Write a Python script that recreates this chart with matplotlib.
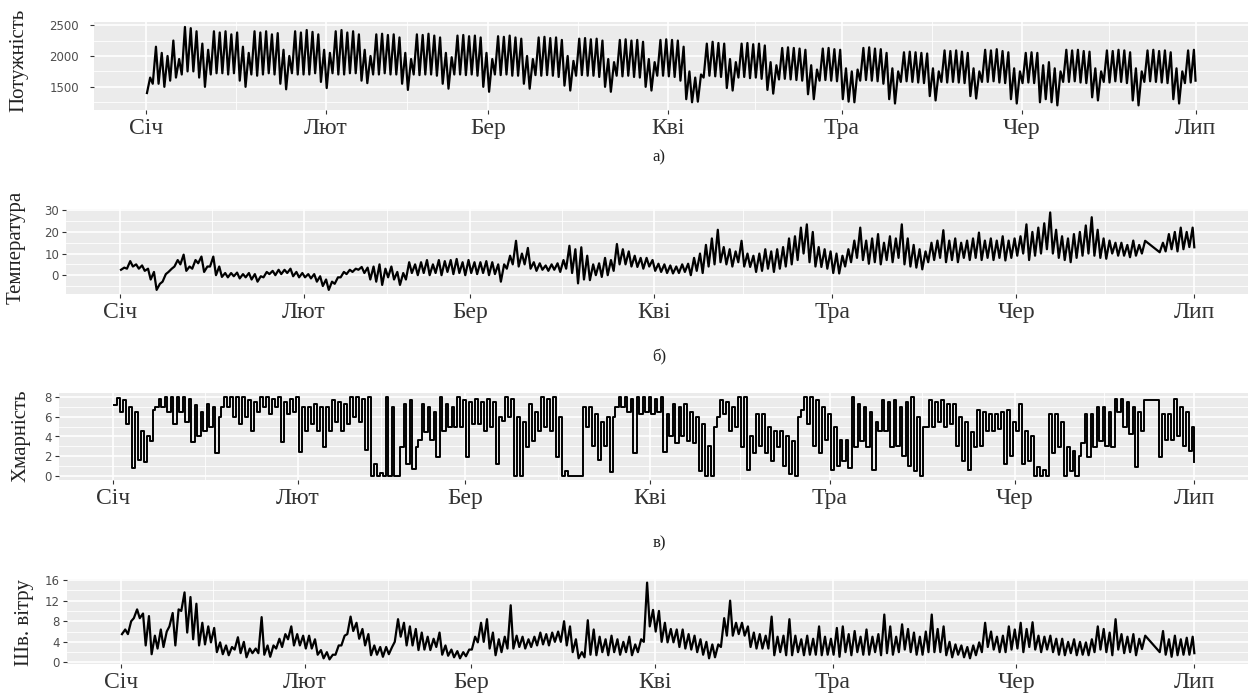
import numpy as np
import matplotlib
matplotlib.use("Agg")
import matplotlib.pyplot as plt

# month ticks, day-of-year (non-leap year)
months = ['Січ', 'Лют', 'Бер', 'Кві', 'Тра', 'Чер', 'Лип']
month_start = [0, 31, 59, 90, 120, 151, 181]

# daily max / min, day 0 = 1 Jan ... day 180 = 30 Jun
power_hi = [1650, 2150, 2050, 2000, 2250, 1950, 2470, 2450, 2400, 2200,
            2100, 2400, 2380, 2400, 2350, 2380, 2150, 2050, 2400, 2380,
            2400, 2350, 2370, 2100, 2000, 2400, 2380, 2420, 2390, 2350,
            2100, 2050, 2400, 2420, 2380, 2400, 2350, 2100, 2000, 2350,
            2360, 2340, 2350, 2300, 2050, 1950, 2350, 2340, 2360, 2330,
            2300, 2050, 1980, 2330, 2340, 2320, 2330, 2300, 2050, 1950,
            2320, 2310, 2330, 2300, 2280, 2000, 1950, 2300, 2310, 2290,
            2300, 2260, 2000, 1920, 2280, 2290, 2270, 2280, 2250, 1950,
            1900, 2260, 2270, 2250, 2260, 2230, 1950, 1900, 2260, 2270,
            2260, 2250, 2150, 1750, 1650, 1700, 2200, 2230, 2210, 2200,
            1950, 1900, 2200, 2210, 2190, 2200, 2170, 1900, 1850, 2130,
            2140, 2130, 2120, 2100, 1850, 1780, 2120, 2130, 2110, 2100,
            1800, 1750, 1780, 2130, 2140, 2120, 2110, 2050, 1800, 1750,
            2060, 2070, 2060, 2050, 2040, 1800, 1750, 2090, 2080, 2090,
            2070, 2050, 1800, 1750, 2100, 2090, 2110, 2080, 2060, 1800,
            1750, 2050, 2060, 2050, 1850, 1900, 1800, 1750, 2100, 2090,
            2100, 2080, 2070, 1800, 1750, 2090, 2080, 2100, 2090, 2060,
            1800, 1750, 2090, 2100, 2080, 2090, 2060, 1800, 1750, 2090, 2100]
power_lo = [1400, 1550, 1550, 1500, 1600, 1650, 1700, 1750, 1750, 1650,
            1500, 1700, 1720, 1720, 1700, 1720, 1600, 1500, 1700, 1680,
            1700, 1720, 1700, 1550, 1460, 1720, 1700, 1700, 1700, 1720,
            1580, 1480, 1720, 1700, 1700, 1720, 1720, 1600, 1560, 1700,
            1700, 1720, 1700, 1700, 1550, 1450, 1700, 1690, 1700, 1700,
            1680, 1550, 1470, 1700, 1700, 1690, 1700, 1680, 1500, 1420,
            1700, 1690, 1700, 1680, 1680, 1550, 1470, 1690, 1680, 1690,
            1680, 1660, 1520, 1440, 1680, 1690, 1680, 1680, 1660, 1500,
            1420, 1680, 1670, 1680, 1660, 1650, 1500, 1440, 1680, 1680,
            1670, 1660, 1600, 1300, 1250, 1260, 1650, 1680, 1670, 1660,
            1480, 1440, 1650, 1660, 1640, 1650, 1630, 1450, 1390, 1620,
            1630, 1620, 1610, 1600, 1380, 1300, 1600, 1610, 1600, 1590,
            1300, 1260, 1250, 1600, 1610, 1600, 1590, 1550, 1300, 1230,
            1580, 1590, 1580, 1570, 1560, 1350, 1280, 1580, 1570, 1580,
            1570, 1560, 1350, 1310, 1580, 1580, 1590, 1570, 1560, 1300,
            1230, 1560, 1570, 1560, 1250, 1300, 1250, 1200, 1580, 1580,
            1590, 1570, 1560, 1330, 1280, 1580, 1570, 1590, 1580, 1560,
            1280, 1200, 1580, 1590, 1580, 1570, 1560, 1300, 1230, 1560, 1570]
power_end = 1600

temp_lo = [2.5, 3, 4, 3, 2, -2, -6.8, -3, 1.5, 4,
           5, 2, 3, 5.5, 1.5, 4, 0, -0.8, -1, -0.5,
           -1.5, -1, -2, -3, -1, 0.5, 0, 0.5, 1, -0.5,
           -1, -1, -1.5, -3, -5, -6.8, -4, -1, 0.5, 1.5,
           2.5, 1, -2, -3, -4.5, -1, -2, -4.5, -2, 1,
           0, 1, 0, 1, 0, 1.5, 0.5, 1, 0, 1,
           0.5, 1, 0, 0.5, -3, 3, 5, 4, 5, 3,
           2, 2.5, 2, 2.5, 1.5, 3, 1, -3.8, -2, -2.3,
           0, -0.8, 0, 2, 5, 5, 4, 3.8, 3, 4,
           2, 1.5, 1, 0.8, 1, 1.5, 0, 2, 1, 4,
           5, 6, 5, 4, 6, 4, 3.8, 1.5, 2, 3,
           1.5, 3, 4, 5, 7, 10, 6, 4, 3.8, 3,
           1, 0.8, 4, 6, 8, 7, 5.3, 6, 5, 7,
           6, 8, 5, 4, 3.5, 2.7, 6, 7, 8, 6,
           7, 6, 8, 7, 8, 7, 8, 7, 8, 6.8,
           8, 9, 10, 7, 9, 10, 12, 10, 8, 7,
           6, 8, 9, 10, 9, 8, 7.6, 10, 9, 9,
           8.3, 9, 10, None, None, 10.6, 11, 12, 11, 12, 13]
temp_hi = [3.5, 6.5, 5, 4.5, 3, 1.5, -4, 0.5, 3, 7,
           9.5, 4, 7, 8.6, 4, 8.6, 4, 1, 1, 1.2,
           0.5, 1, 0.5, -0.5, 1.5, 2, 2.5, 2.5, 3, 1.5,
           1, 0.5, 0.5, -0.5, -2, -3, -1, 1.5, 2.5, 3,
           3.8, 3.5, 4, 5, 3, 4, 1.5, 1, 6, 5,
           6, 7, 5, 7, 6.5, 7, 7.5, 6, 7, 6,
           6, 6.5, 6, 5, 5, 9, 15.9, 10, 12.6, 6,
           5.5, 4.5, 5, 5.5, 7, 13.6, 12, 12.9, 9, 5,
           5.5, 8, 7, 14.4, 12, 11, 9, 8, 8, 7,
           5.3, 5, 4.5, 4, 5, 5.3, 8, 10, 14, 17,
           21, 13, 12, 11, 15.9, 10, 9, 10, 12, 11,
           12, 13, 17, 18, 22, 23.5, 20, 13, 12, 11,
           10, 9, 12, 16, 22, 16, 17, 19, 15, 18,
           17, 23.5, 17, 14, 12, 11, 15, 16, 20.8, 16,
           17, 15, 16, 17, 19.7, 16, 17, 16, 18, 16,
           17, 18, 23.5, 20, 22, 24, 29, 21, 18, 17,
           19, 20, 23, 26.8, 21, 17, 16, 15, 15, 14,
           16, 14, 15.9, None, None, 15, 19, 20, 22, 20, 22]
temp_end = 12.9

cloud_lo = [7.2, 6.5, 5.3, 0.8, 1.6, 1.4, 3.5, 7, 7, 6.5,
            5.3, 6.5, 5.5, 3.4, 4, 4.6, 5, 2.3, 7, 7,
            6, 5.3, 6, 4.6, 6.5, 7, 6.3, 7, 3.4, 6.3,
            6.5, 2.4, 4.6, 5.3, 4.6, 2.9, 4.6, 5.5, 4.6, 5.3,
            6, 5.5, 2.6, 0, 0, 0, 0, 0, 2.9, 1.2,
            0.7, 3.6, 4.5, 3.6, 1.9, 4.6, 5, 5, 5, 1.9,
            5.3, 5.3, 4.6, 5, 1.2, 5.6, 6, 0, 0, 2.9,
            3.5, 4.6, 5, 4.6, 1.9, 0, 0, 0, 0, 5,
            3, 1.6, 3, 0.4, 7, 7, 6.5, 2.3, 6.3, 6.5,
            6.3, 6.5, 2.4, 4, 3.3, 4, 3.5, 3.3, 0.5, 0,
            0, 6, 6.3, 4.6, 5, 2.9, 0.6, 2.3, 3, 2.3,
            1.5, 2.9, 1, 0.2, 0, 6.7, 5.3, 3, 2.3, 3.6,
            0.6, 1, 1.5, 0.8, 2.9, 3.5, 2.9, 0.6, 4.6, 4.6,
            2.9, 3, 2, 1, 0.5, 0, 5, 5, 5.5, 5,
            5.3, 3, 1.5, 0.6, 2.9, 3, 4.6, 4.6, 4.8, 1.2,
            2, 4.6, 1.2, 1.5, 0, 0, 0, 2.3, 2.9, 0,
            0.5, 0, 3.3, 1.9, 2.9, 3.5, 3, 2.9, 6.5, 5,
            4.3, 0.9, 4.6, None, None, 1.9, 3.6, 3.6, 4, 3, 2.5]
cloud_hi = [7.9, 7.7, 7, 6.5, 4.6, 4, 6.7, 7.8, 8, 8,
            8, 8, 7.8, 7.2, 6.5, 7.3, 7, 6, 8, 8,
            8, 8, 7.7, 7.5, 8, 8, 7.8, 8, 7.5, 7.8,
            8, 7, 7, 7.3, 7, 7, 7.7, 7.5, 7.3, 8,
            8, 7.8, 8, 1.2, 0.3, 8, 7, 0, 7.3, 7.7,
            2.9, 7.3, 7, 6.5, 8, 7.3, 7, 8, 7.7, 7.5,
            7.8, 7.5, 7.8, 7.5, 6, 8, 7.8, 6, 5.5, 7.3,
            6.5, 8, 7.8, 8, 6, 0.5, 0, 0, 7, 7,
            6.3, 5.5, 6, 6, 8, 8, 7.8, 8, 8, 8,
            7.8, 8, 6.3, 7.3, 7, 7.3, 6.5, 6, 5.3, 3,
            5, 7.7, 7.5, 7, 8, 8, 4, 6.3, 6.3, 5,
            4.6, 4.6, 4, 3.5, 6, 8, 8, 7.7, 7, 6.3,
            5, 3.6, 3.6, 8, 7.3, 7, 6.5, 5.5, 7.7, 7.5,
            7.7, 7, 7.5, 8, 6, 5, 7.7, 7.5, 7.7, 7.3,
            7.3, 6, 5.5, 4.5, 6.7, 6.5, 6.3, 6.3, 6.5, 6.7,
            5.5, 7.3, 4.6, 4, 0.9, 0.6, 6.3, 6.3, 5.5, 2.9,
            2.5, 2, 6.3, 6.3, 7, 7, 6.5, 7.8, 7.8, 7.5,
            7, 6.5, 7.7, None, None, 6.3, 6.3, 7.8, 7, 6.5, 5]
cloud_end = 1.4

wind_lo = [5.5, 5.5, 8.6, 8.6, 3.3, 1.6, 2.7, 3, 7, 3.3,
           10, 5.8, 4.5, 3.3, 3.5, 3.9, 2, 1.6, 1.4, 2.5,
           1.8, 1, 1.8, 1.8, 1.5, 1.1, 2.7, 3, 4.5, 3.3,
           3.3, 2.7, 2.7, 1.5, 0.8, 0.6, 1.5, 3.3, 5.5, 6.1,
           4.6, 3.3, 1.4, 1.5, 1.1, 1.6, 4, 5, 3.3, 3.3,
           2.4, 2.5, 2.4, 3, 1.5, 1.3, 1, 0.8, 1.2, 2.5,
           3.9, 4, 2.7, 1.4, 2, 2.7, 2.7, 3, 2.7, 3,
           3.3, 3.5, 3.3, 4, 4, 3.3, 2, 0.8, 1, 1.5,
           1.4, 2, 1.4, 2, 1.5, 2, 1.4, 2, 4, 7,
           6, 4, 3.9, 3.9, 3, 2.7, 2.5, 2, 1.5, 0.8,
           1, 3, 5.2, 5.2, 5.5, 5.2, 3, 2.7, 2.7, 2.7,
           1.4, 2, 1.4, 1.4, 2, 1.4, 1.5, 1.5, 1.4, 1.5,
           1.5, 1.1, 2, 1.4, 2, 1.5, 1.5, 2, 1.4, 1.8,
           1.5, 2, 2.5, 2, 1.5, 1.5, 2, 2, 2, 1.4,
           1, 1.5, 1, 0.8, 1.4, 2, 3, 2.5, 2, 2,
           2.5, 2.7, 2, 3, 2.5, 2, 2.5, 2, 1.5, 1.4,
           1.8, 1.4, 1.5, 1.4, 2, 2.5, 2, 1.4, 2.5, 1.8,
           2, 1.4, 2.6, None, None, 2, 1.5, 1.1, 1.4, 1.5, 1.5]
wind_hi = [6.4, 8, 10.3, 9.5, 9, 5.2, 6.4, 6, 9.6, 10.3,
           13.6, 12.7, 11.4, 7.7, 7, 6.7, 3.9, 3.3, 3, 4.9,
           4, 2.7, 2.7, 8.8, 3.3, 3.3, 4.6, 5.5, 7, 5.5,
           5.2, 5.2, 4.5, 2.4, 2, 1.5, 3.3, 5.2, 8.9, 7.7,
           6.5, 5.5, 3.3, 3, 3, 3, 8.4, 7.7, 7, 6.5,
           5.8, 5, 4.6, 5.8, 3.3, 2.5, 2.2, 2, 2.5, 5,
           7.7, 8.4, 5.8, 4.5, 5, 11.1, 5.2, 5, 4.5, 5,
           5.8, 5.5, 5.8, 6, 8, 7, 4.5, 2, 8.2, 6.4,
           5, 4.5, 5.2, 4.5, 4, 5, 3.5, 4.5, 15.5, 10.2,
           10, 7.7, 6.5, 6.4, 6.4, 5.5, 5.2, 4.5, 4, 3.5,
           3.5, 8.6, 12, 7.7, 7.7, 7, 5.8, 5.5, 5.2, 8.9,
           5, 5.2, 8.4, 5.2, 4.5, 5.2, 4.6, 7, 5, 4.6,
           6.7, 7, 5.5, 6.1, 5, 6.4, 5, 5.5, 9.3, 7,
           5, 7.4, 6.5, 5.8, 5, 6, 9.3, 6.5, 7, 4,
           3.5, 3.3, 3, 3.3, 3.9, 7.7, 6, 5, 5.2, 7,
           6.4, 7.7, 6.5, 7.8, 5.2, 5, 5.2, 4.6, 4.6, 4,
           4.5, 4, 3.9, 4.5, 7, 6.5, 5.8, 8.4, 5.5, 5,
           5.5, 4.6, 5.2, None, None, 6.1, 4.5, 5.2, 4.5, 4.8, 5]
wind_end = 1.8


def daily_line(lo, hi, last):
    # night minimum early in the day, daytime maximum later
    xs, ys = [], []
    for d, (a, b) in enumerate(zip(lo, hi)):
        if a is None:
            continue
        xs += [d + 0.17, d + 0.72]
        ys += [a, b]
    xs.append(month_start[-1])
    ys.append(last)
    return np.array(xs), np.array(ys)


W, H = 1248, 700
fig = plt.figure(figsize=(W / 100, H / 100), dpi=100)

serif = 'Liberation Serif'
grey_txt = '#333333'

panels = [
    # label, lo, hi, end, ylim, major, minor, (left, top, bottom), title xy, ytick pad, caption y, steps
    ('Потужність', power_lo, power_hi, power_end, (1125, 2550),
     [1500, 2000, 2500], [1250, 1750, 2250], (93.5, 22, 110), (19, 60), 7.5, 157, False),
    ('Температура', temp_lo, temp_hi, temp_end, (-8.7, 30.6),
     [0, 10, 20, 30], [-5, 5, 15, 25], (66.3, 209, 294), (16, 247), 2.2, 357, False),
    ('Хмарність', cloud_lo, cloud_hi, cloud_end, (-0.4, 8.4),
     [0, 2, 4, 6, 8], [1, 3, 5, 7], (58.6, 393, 480), (21, 436), 2.2, 543, True),
    ('Шв. вітру', wind_lo, wind_hi, wind_end, (-0.3, 16.2),
     [0, 4, 8, 12, 16], [2, 6, 10, 14], (67.3, 579, 664), (25, 623), 2.2, None, False),
]
captions = ['а)', 'б)', 'в)', None]

minor_x = [(a + b) / 2 for a, b in zip(month_start[:-1], month_start[1:])]

for (label, lo, hi, end, ylim, major, minor, box, tpos, pad, capy, steps), cap in zip(panels, captions):
    left, top, bottom = box
    ax = fig.add_axes([left / W, 1 - bottom / H, (W - left) / W, (bottom - top) / H])
    ax.set_facecolor('#EBEBEB')
    for s in ax.spines.values():
        s.set_visible(False)

    x, y = daily_line(lo, hi, end)
    if steps:
        ax.plot(x, y, color='black', lw=1.4, drawstyle='steps-post', zorder=3)
    else:
        ax.plot(x, y, color='black', lw=1.6, zorder=3)

    ax.set_xlim(-9.05, 190.05)
    ax.set_ylim(*ylim)
    ax.set_xticks(month_start)
    ax.set_xticklabels(months, fontfamily=serif, fontsize=17, color=grey_txt)
    ax.set_xticks(minor_x, minor=True)
    ax.set_yticks(major)
    ax.set_yticklabels([str(v) for v in major], fontfamily='DejaVu Sans',
                       fontsize=8.5, color='#4D4D4D')
    ax.set_yticks(minor, minor=True)

    ax.grid(which='major', color='white', lw=1.2, zorder=0)
    ax.grid(which='minor', color='white', lw=0.6, zorder=0)
    ax.set_axisbelow(True)
    ax.tick_params(axis='both', which='major', length=3, width=0.8, color='#333333')
    ax.tick_params(axis='y', which='major', pad=pad)
    ax.tick_params(axis='x', which='major', pad=3)
    ax.tick_params(which='minor', length=0)

    fig.text(tpos[0] / W, 1 - tpos[1] / H, label, rotation=90, ha='center', va='center',
             fontfamily=serif, fontsize=15, color='#222222')
    if cap:
        fig.text(659 / W, 1 - capy / H, cap, ha='center', va='center',
                 fontfamily=serif, fontsize=12, color='#222222')

fig.savefig('out.png', dpi=100)
